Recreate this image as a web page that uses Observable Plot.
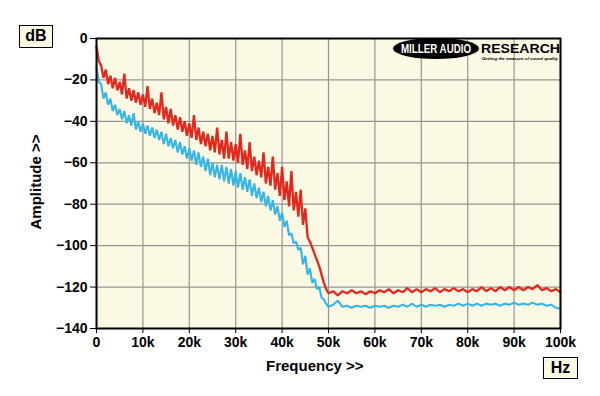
<!DOCTYPE html>
<html>
<head>
<meta charset="utf-8">
<script src="https://cdn.jsdelivr.net/npm/d3@7"></script>
<script src="https://cdn.jsdelivr.net/npm/@observablehq/plot@0.6"></script>
<style>
  html, body { margin: 0; padding: 0; background: #ffffff; }
  #wrap { position: relative; width: 600px; height: 396px; overflow: hidden; font-family: "Liberation Sans", Arial, sans-serif; }
  #chart { position: absolute; left: 0; top: 0; }
  .box { position: absolute; border: 1.5px solid #000; background: #fbf8e3; font-weight: bold; font-size: 16px; text-align: center; box-sizing: border-box; color: #000; }
  .lab { position: absolute; font-weight: bold; font-size: 15px; color: #000; white-space: nowrap; }
  #logo { position: absolute; left: 390px; top: 38px; }
</style>
</head>
<body>
<div id="wrap">
  <div id="chart"></div>
  <div class="box" style="left:19px;top:25px;width:34px;height:23px;line-height:20px;">dB</div>
  <div class="box" style="left:543px;top:357px;width:35px;height:22px;line-height:19px;">Hz</div>
  <div class="lab" style="left:266px;top:357px;">Frequency &gt;&gt;</div>
  <div class="lab" style="left:35px;top:182px;transform:translate(-50%,-50%) rotate(-90deg);">Amplitude &gt;&gt;</div>
  <svg id="logo" width="180" height="30" viewBox="0 0 180 30">
    <ellipse cx="46" cy="10.5" rx="43" ry="10.5" fill="#000"></ellipse>
    <text x="11" y="15" fill="#fff" font-family="Liberation Sans, Arial" font-weight="bold" font-size="12" textLength="70" lengthAdjust="spacingAndGlyphs">MILLER AUDIO</text>
    <text x="91" y="15" fill="#000" font-family="Liberation Sans, Arial" font-weight="bold" font-size="12" textLength="79" lengthAdjust="spacingAndGlyphs">RESEARCH</text>
    <text x="92" y="22" fill="#000" font-family="Liberation Sans, Arial" font-weight="bold" font-style="italic" font-size="4.2" textLength="76" lengthAdjust="spacingAndGlyphs">Getting the measure of sound quality</text>
  </svg>
</div>
<script>
// Frequency sample points (kHz)
const freqs = [
  0,0.5,1,1.5,2,2.5,3,3.5,4,4.5,5,5.5,6,6.5,7,7.5,8,8.5,9,9.5,
  10,10.5,11,11.5,12,12.5,13,13.5,14,14.5,15,15.5,16,16.5,17,17.5,18,18.5,19,19.5,
  20,20.5,21,21.5,22,22.5,23,23.5,24,24.5,25,25.5,26,26.5,27,27.5,28,28.5,29,29.5,
  30,30.5,31,31.5,32,32.5,33,33.5,34,34.5,35,35.5,36,36.5,37,37.5,38,38.5,39,39.5,
  40,40.5,41,41.5,42,42.5,43,43.5,44,44.5,45,45.5,46,46.5,47,47.5,48,48.5,49,49.5,
  50,51,52,53,54,55,56,57,58,59,60,61,62,63,64,65,66,67,68,69,
  70,71,72,73,74,75,76,77,78,79,80,81,82,83,84,85,86,87,88,89,
  90,91,92,93,94,95,96,97,98,99,100
];

// Red trace (dB)
const redValues = [
  -4,-11,-13,-19,-15,-22,-18,-24,-19,-25,-21,-27,-17,-29,-24,-30,-25,-31,-26,-32,
  -27,-33,-23,-34,-29,-36,-31,-37,-26,-39,-33,-41,-34,-42,-37,-44,-38,-45,-40,-47,
  -41,-48,-37,-49,-43,-51,-45,-52,-46,-54,-47,-55,-43,-56,-49,-58,-45,-58,-50,-59,
  -51,-60,-46,-61,-54,-63,-50,-64,-57,-66,-59,-67,-55,-70,-62,-71,-57,-73,-65,-76,
  -62,-78,-69,-81,-64,-83,-74,-86,-73,-90,-82,-96,-98,-101,-104,-107,-110,-114,-118,-121,
  -123,-122,-124,-122,-123,-121.5,-123,-122,-123.5,-122,-123,-121.5,-122.5,-121,-123,-121.5,-122.5,-120.5,-122.5,-121,
  -122.5,-121,-122,-120.5,-122.5,-121,-122,-120.5,-122,-121,-122.5,-121,-122,-120,-122,-120.5,-122,-120,-121.5,-120,
  -121.5,-120,-121.5,-120,-121,-119,-121.5,-120.5,-122,-121,-122.5
];

// Blue trace (dB)
const blueValues = [
  -14,-21,-22,-29,-26,-32,-29,-35,-32,-37,-34,-39,-35,-41,-37,-42,-36,-44,-40,-45,
  -41,-46,-42,-47,-43,-48,-44,-49,-45,-51,-46,-52,-48,-53,-49,-55,-50,-56,-52,-58,
  -53,-59,-54,-61,-55,-62,-57,-64,-58,-66,-60,-67,-61,-68,-61,-69,-62,-70,-63,-71,
  -64,-72,-65,-73,-67,-74,-68,-76,-70,-77,-72,-79,-74,-81,-76,-83,-78,-85,-81,-88,
  -84,-91,-88,-95,-94,-99,-98,-102,-101,-109,-105,-114,-111,-118,-116,-121,-120,-125,-126,-128,
  -129.5,-128.5,-126.5,-129.5,-129,-130,-129,-129.5,-129,-130,-129,-129.5,-129,-130,-129,-129.5,-128.5,-129.5,-128,-129.5,
  -128.5,-129.5,-128.5,-129,-128.5,-129.5,-128.5,-129,-128,-129,-128,-129,-128,-129,-128,-128.5,-128,-129,-128,-128.5,
  -127.5,-128.5,-128,-128.5,-127.5,-128.5,-128,-129,-128.5,-130,-130.5
];

const xTicks = [0,10,20,30,40,50,60,70,80,90,100];
const xTickLabels = ["0","10k","20k","30k","40k","50k","60k","70k","80k","90k","100k"];
const yTicks = [0,-20,-40,-60,-80,-100,-120,-140];

const red = freqs.map((f, i) => ({f, v: redValues[i]}));
const blue = freqs.map((f, i) => ({f, v: blueValues[i]}));

const plot = Plot.plot({
  width: 600,
  height: 396,
  marginLeft: 96,
  marginRight: 40,
  marginTop: 38,
  marginBottom: 68,
  style: {background: "transparent", fontFamily: "Liberation Sans, Arial, sans-serif", fontSize: "14px", fontWeight: "bold", color: "#000"},
  x: {domain: [0, 100], label: null},
  y: {domain: [-140, 0], label: null},
  marks: [
    Plot.frame({fill: "#fbf8e3", stroke: null}),
    Plot.gridX(xTicks, {stroke: "#959595", strokeOpacity: 1, strokeWidth: 1.2}),
    Plot.gridY(yTicks, {stroke: "#959595", strokeOpacity: 1, strokeWidth: 1.2}),
    Plot.line(blue, {x: "f", y: "v", stroke: "#36b6e6", strokeWidth: 2.1, curve: "linear", strokeLinejoin: "miter"}),
    Plot.line(red, {x: "f", y: "v", stroke: "#e5281d", strokeWidth: 2.3, curve: "linear", strokeLinejoin: "miter"}),
    Plot.frame({stroke: "#000", strokeWidth: 2}),
    Plot.axisX(xTicks, {tickFormat: (d) => xTickLabels[xTicks.indexOf(d)], tickSize: 5, tickPadding: 4, fontSize: 14, fontWeight: "bold", label: null, stroke: "#000"}),
    Plot.axisY(yTicks, {tickSize: 6, tickPadding: 3, fontSize: 14, fontWeight: "bold", label: null, stroke: "#000"})
  ]
});
document.getElementById("chart").appendChild(plot);
</script>
</body>
</html>
